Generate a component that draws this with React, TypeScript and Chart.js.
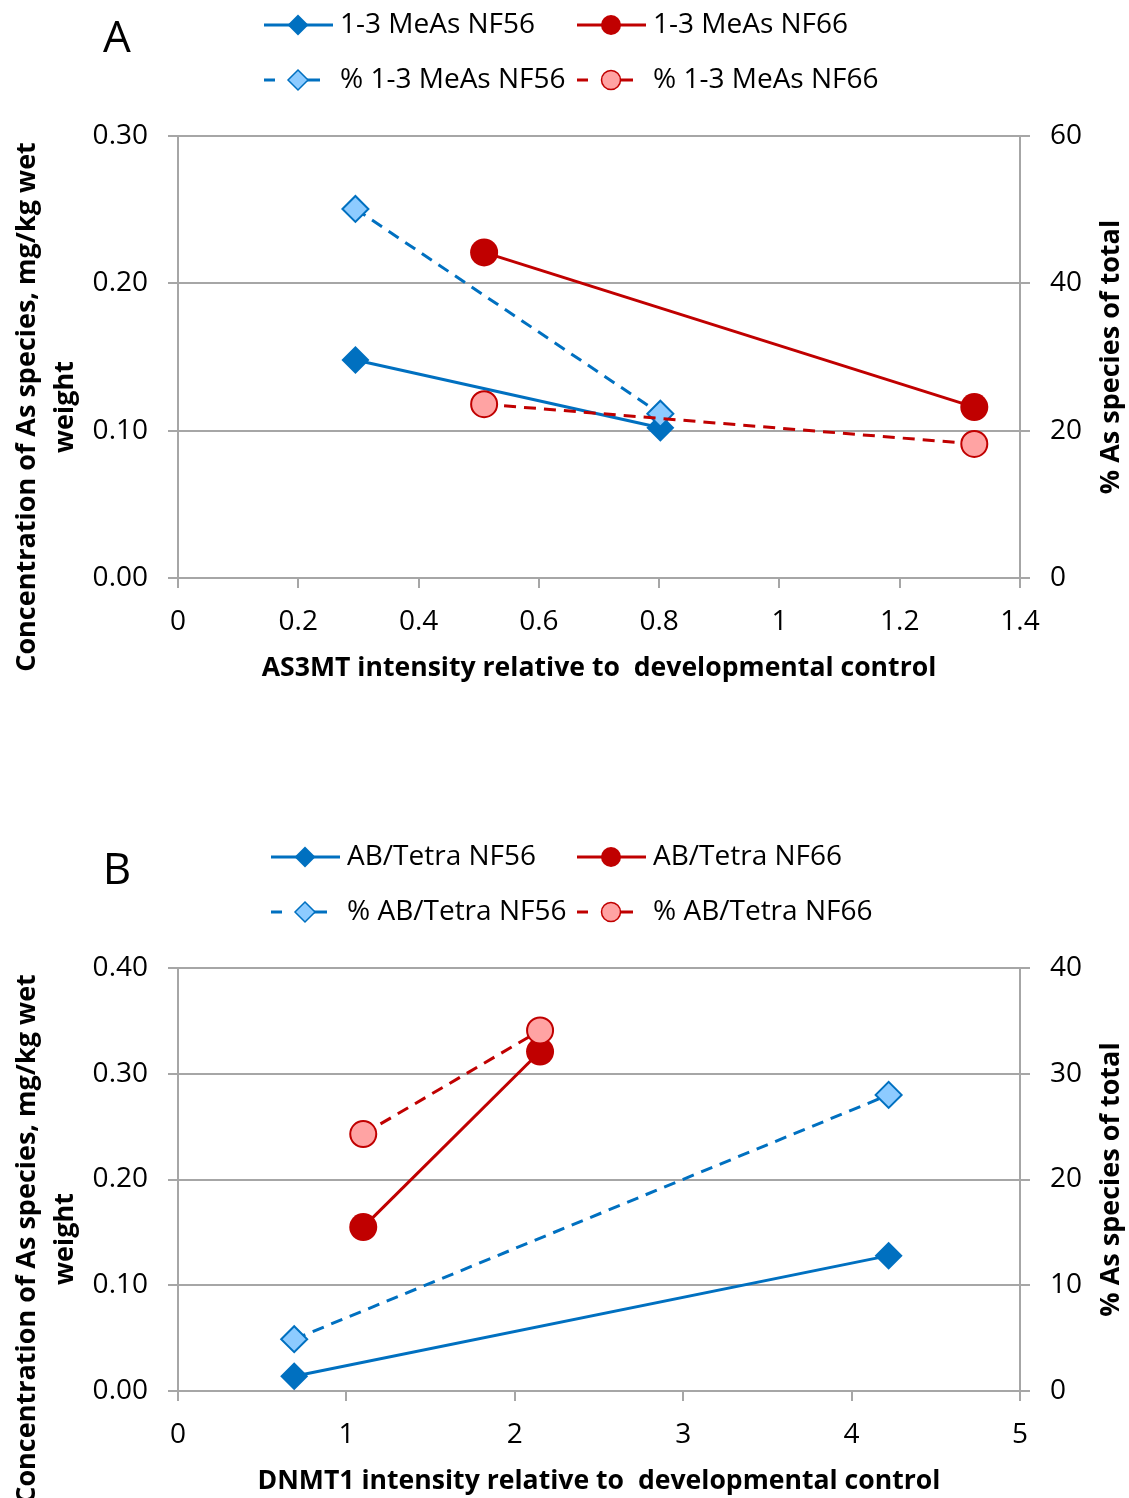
import React, { useEffect, useRef } from "react";
import { Chart, registerables } from "chart.js";

Chart.register(...registerables);

const FONT = '"Open Sans", "DejaVu Sans", sans-serif';
const DARK_BLUE = "#0070C0";
const RED = "#C00000";
const LIGHT_BLUE = "#8DCBFF";
const LIGHT_RED = "#FFA3A3";
const GRID = "#A6A6A6";
const PAGE_W = 1129;

// ---------- Panel A data ----------
const aNames = ["1-3 MeAs NF56", "1-3 MeAs NF66", "% 1-3 MeAs NF56", "% 1-3 MeAs NF66"];
const aX56 = [0.295, 0.802];
const aConc56 = [0.148, 0.102];
const aX66 = [0.509, 1.324];
const aConc66 = [0.221, 0.116];
const aPct56 = [50.1, 22.3];
const aPct66 = [23.6, 18.2];
const aXTicks = [0, 0.2, 0.4, 0.6, 0.8, 1, 1.2, 1.4];
const aXTickLabels = ["0", "0.2", "0.4", "0.6", "0.8", "1", "1.2", "1.4"];
const aYTicks = [0, 0.1, 0.2, 0.3];
const aYTickLabels = ["0.00", "0.10", "0.20", "0.30"];
const aY2Ticks = [0, 20, 40, 60];
const aY2TickLabels = ["0", "20", "40", "60"];
const aXTitle = "AS3MT intensity relative to  developmental control";

// ---------- Panel B data ----------
const bNames = ["AB/Tetra NF56", "AB/Tetra NF66", "% AB/Tetra NF56", "% AB/Tetra NF66"];
const bX56 = [0.69, 4.22];
const bConc56 = [0.014, 0.128];
const bX66 = [1.1, 2.15];
const bConc66 = [0.155, 0.321];
const bPct56 = [4.9, 28.0];
const bPct66 = [24.3, 34.1];
const bXTicks = [0, 1, 2, 3, 4, 5];
const bXTickLabels = ["0", "1", "2", "3", "4", "5"];
const bYTicks = [0, 0.1, 0.2, 0.3, 0.4];
const bYTickLabels = ["0.00", "0.10", "0.20", "0.30", "0.40"];
const bY2Ticks = [0, 10, 20, 30, 40];
const bY2TickLabels = ["0", "10", "20", "30", "40"];
const bXTitle = "DNMT1 intensity relative to  developmental control";

const yTitleLines = ["Concentration of As species, mg/kg wet", "weight"];
const y2Title = "% As species of total";

type Panel = {
  letter: string;
  names: string[];
  x56: number[];
  c56: number[];
  x66: number[];
  c66: number[];
  p56: number[];
  p66: number[];
  xTicks: number[];
  xLabels: string[];
  yTicks: number[];
  yLabels: string[];
  y2Ticks: number[];
  y2Labels: string[];
  xTitle: string;
  height: number;
  plotBottom: number;
  legendCol0: number;
};

const panelA: Panel = {
  letter: "A", names: aNames, x56: aX56, c56: aConc56, x66: aX66, c66: aConc66,
  p56: aPct56, p66: aPct66, xTicks: aXTicks, xLabels: aXTickLabels,
  yTicks: aYTicks, yLabels: aYTickLabels, y2Ticks: aY2Ticks, y2Labels: aY2TickLabels,
  xTitle: aXTitle, height: 832, plotBottom: 578, legendCol0: 264,
};
const panelB: Panel = {
  letter: "B", names: bNames, x56: bX56, c56: bConc56, x66: bX66, c66: bConc66,
  p56: bPct56, p66: bPct66, xTicks: bXTicks, xLabels: bXTickLabels,
  yTicks: bYTicks, yLabels: bYTickLabels, y2Ticks: bY2Ticks, y2Labels: bY2TickLabels,
  xTitle: bXTitle, height: 666, plotBottom: 559, legendCol0: 271,
};

const PLOT_TOP = 136;
const PLOT_LEFT = 178;
const PLOT_RIGHT = 1020;

function pts(xs: number[], ys: number[]) {
  return xs.map((x, i) => ({ x, y: ys[i] }));
}

function drawMarker(ctx: CanvasRenderingContext2D, style: string, x: number, y: number, r: number, fill: string, stroke: string, bw: number) {
  ctx.beginPath();
  if (style === "rectRot") {
    ctx.moveTo(x, y - r);
    ctx.lineTo(x + r, y);
    ctx.lineTo(x, y + r);
    ctx.lineTo(x - r, y);
    ctx.closePath();
  } else {
    ctx.arc(x, y, r, 0, Math.PI * 2);
  }
  ctx.fillStyle = fill;
  ctx.fill();
  if (bw > 0) {
    ctx.lineWidth = bw;
    ctx.strokeStyle = stroke;
    ctx.stroke();
  }
}

function textPlugin(p: Panel) {
  return {
    id: "panelText" + p.letter,
    afterDraw(chart: any) {
      const ctx: CanvasRenderingContext2D = chart.ctx;
      const area = chart.chartArea;
      ctx.save();
      ctx.fillStyle = "#000";
      ctx.textBaseline = "middle";
      // panel letter
      ctx.textAlign = "center";
      ctx.font = `44px ${FONT}`;
      ctx.fillText(p.letter, 117, 39);

      // legend
      const styles = [
        { dashed: false, shape: "rectRot", fill: DARK_BLUE, stroke: DARK_BLUE, color: DARK_BLUE, r: 10.5, bw: 0 },
        { dashed: false, shape: "circle", fill: RED, stroke: RED, color: RED, r: 10, bw: 0 },
        { dashed: true, shape: "rectRot", fill: LIGHT_BLUE, stroke: DARK_BLUE, color: DARK_BLUE, r: 10, bw: 1.5 },
        { dashed: true, shape: "circle", fill: LIGHT_RED, stroke: RED, color: RED, r: 9.5, bw: 1.5 },
      ];
      const cols = [p.legendCol0, 577];
      const rows = [25, 80];
      ctx.font = `28px ${FONT}`;
      ctx.textAlign = "left";
      p.names.forEach((name, i) => {
        const s = styles[i];
        const x0 = cols[i % 2];
        const y = rows[Math.floor(i / 2)];
        const mx = x0 + 34;
        ctx.strokeStyle = s.color;
        ctx.lineWidth = 3;
        ctx.beginPath();
        if (s.dashed) {
          ctx.moveTo(x0, y); ctx.lineTo(x0 + 11, y);
          ctx.moveTo(mx + 9, y); ctx.lineTo(mx + 22, y);
        } else {
          ctx.moveTo(x0, y); ctx.lineTo(x0 + 69, y);
        }
        ctx.stroke();
        drawMarker(ctx, s.shape, mx, y, s.r, s.fill, s.stroke, s.bw);
        ctx.fillStyle = "#000";
        ctx.fillText(name, x0 + 76, y);
      });

      // axis titles
      ctx.fillStyle = "#000";
      ctx.textAlign = "center";
      ctx.font = `bold 26.6px ${FONT}`;
      ctx.fillText(p.xTitle, (area.left + area.right) / 2, area.bottom + 90);

      ctx.font = `bold 27px ${FONT}`;
      ctx.save();
      ctx.translate(27, 407);
      ctx.rotate(-Math.PI / 2);
      ctx.fillText(yTitleLines[0], 0, 0);
      ctx.restore();
      ctx.save();
      ctx.translate(65, 407);
      ctx.rotate(-Math.PI / 2);
      ctx.fillText(yTitleLines[1], 0, 0);
      ctx.restore();

      ctx.save();
      ctx.translate(1111, (area.top + area.bottom) / 2);
      ctx.rotate(-Math.PI / 2);
      ctx.fillText(y2Title, 0, 0);
      ctx.restore();

      ctx.restore();
    },
  };
}

function buildConfig(p: Panel): any {
  const tickFont = { family: FONT, size: 28 };
  const setTicks = (vals: number[]) => (scale: any) => {
    scale.ticks = vals.map((v) => ({ value: v }));
  };
  return {
    type: "scatter",
    data: {
      datasets: [
        {
          label: p.names[0], data: pts(p.x56, p.c56), yAxisID: "y", showLine: true,
          borderColor: DARK_BLUE, backgroundColor: DARK_BLUE, borderWidth: 3,
          pointStyle: "rectRot", pointRadius: 14, pointBorderWidth: 0,
          pointBackgroundColor: DARK_BLUE, pointBorderColor: DARK_BLUE, order: 4,
        },
        {
          label: p.names[1], data: pts(p.x66, p.c66), yAxisID: "y", showLine: true,
          borderColor: RED, backgroundColor: RED, borderWidth: 3,
          pointStyle: "circle", pointRadius: 14, pointBorderWidth: 0,
          pointBackgroundColor: RED, pointBorderColor: RED, order: 3,
        },
        {
          label: p.names[2], data: pts(p.x56, p.p56), yAxisID: "y1", showLine: true,
          borderColor: DARK_BLUE, backgroundColor: LIGHT_BLUE, borderWidth: 3, borderDash: [12, 8],
          pointStyle: "rectRot", pointRadius: 13, pointBorderWidth: 2,
          pointBackgroundColor: LIGHT_BLUE, pointBorderColor: DARK_BLUE, order: 2,
        },
        {
          label: p.names[3], data: pts(p.x66, p.p66), yAxisID: "y1", showLine: true,
          borderColor: RED, backgroundColor: LIGHT_RED, borderWidth: 3, borderDash: [12, 8],
          pointStyle: "circle", pointRadius: 13, pointBorderWidth: 2,
          pointBackgroundColor: LIGHT_RED, pointBorderColor: RED, order: 1,
        },
      ],
    },
    options: {
      responsive: false,
      animation: false,
      devicePixelRatio: 1,
      layout: { padding: { top: PLOT_TOP, left: 0, right: 0, bottom: 0 } },
      plugins: { legend: { display: false }, tooltip: { enabled: false }, title: { display: false } },
      scales: {
        x: {
          type: "linear", position: "bottom",
          min: p.xTicks[0], max: p.xTicks[p.xTicks.length - 1],
          afterBuildTicks: setTicks(p.xTicks),
          afterFit: (scale: any) => { scale.height = p.height - p.plotBottom; },
          ticks: { font: tickFont, color: "#000", padding: 17, maxRotation: 0, autoSkip: false,
            callback: (_v: any, i: number) => p.xLabels[i] },
          grid: { drawOnChartArea: false, drawTicks: true, tickLength: 10, color: GRID, lineWidth: 2, tickColor: GRID, tickWidth: 2 },
          border: { display: true, color: GRID, width: 2 },
        },
        y: {
          type: "linear", position: "left",
          min: p.yTicks[0], max: p.yTicks[p.yTicks.length - 1],
          afterBuildTicks: setTicks(p.yTicks),
          afterFit: (scale: any) => { scale.width = PLOT_LEFT; },
          ticks: { font: tickFont, color: "#000", padding: 20, autoSkip: false,
            callback: (_v: any, i: number) => p.yLabels[i] },
          grid: { drawOnChartArea: true, drawTicks: true, tickLength: 10, color: GRID, lineWidth: 2, tickColor: GRID, tickWidth: 2 },
          border: { display: true, color: GRID, width: 2 },
        },
        y1: {
          type: "linear", position: "right",
          min: p.y2Ticks[0], max: p.y2Ticks[p.y2Ticks.length - 1],
          afterBuildTicks: setTicks(p.y2Ticks),
          afterFit: (scale: any) => { scale.width = PAGE_W - PLOT_RIGHT; },
          ticks: { font: tickFont, color: "#000", padding: 20, autoSkip: false,
            callback: (_v: any, i: number) => p.y2Labels[i] },
          grid: { drawOnChartArea: false, drawTicks: true, tickLength: 10, color: GRID, lineWidth: 2, tickColor: GRID, tickWidth: 2 },
          border: { display: true, color: GRID, width: 2 },
        },
      },
    },
    plugins: [textPlugin(p)],
  };
}

function PanelChart({ panel }: { panel: Panel }) {
  const ref = useRef<HTMLCanvasElement | null>(null);
  useEffect(() => {
    if (!ref.current) return;
    const chart = new Chart(ref.current, buildConfig(panel));
    return () => chart.destroy();
  }, [panel]);
  return (
    <canvas
      ref={ref}
      width={PAGE_W}
      height={panel.height}
      style={{ display: "block", width: PAGE_W, height: panel.height }}
    />
  );
}

export default function App() {
  useEffect(() => {
    document.body.style.margin = "0";
    document.body.style.background = "#fff";
  }, []);
  return (
    <div style={{ width: PAGE_W, background: "#fff" }}>
      <PanelChart panel={panelA} />
      <PanelChart panel={panelB} />
    </div>
  );
}
